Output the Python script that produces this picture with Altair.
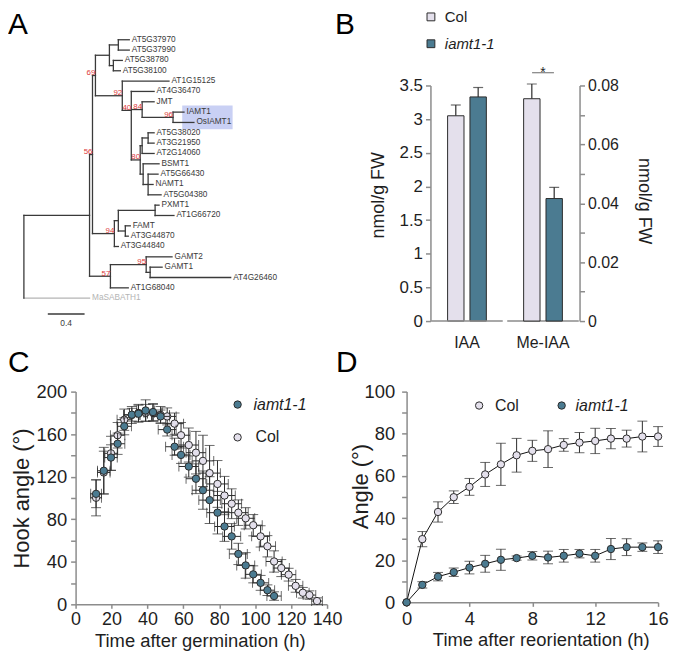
import altair as alt
import pandas as pd

FONT = "Liberation Sans"
INK = "#1e1e1e"
AXIS_INK = "#8c8c8c"
ERR_INK = "#2b2b2b"
TREE_INK = "#3a3a3a"
OUTGROUP_INK = "#b4b4b4"
SUPPORT_INK = "#dd3b3b"
HILITE = "#c9d0f4"
COL_FILL = "#e4e0ec"
MUT_FILL = "#4b7b91"

genotypes = ["Col", "iamt1-1"]
genotype_fill = [COL_FILL, MUT_FILL]

# ---------------- Panel A: phylogenetic tree ----------------
leaf_order = ["AT5G37970", "AT5G37990", "AT5G38780", "AT5G38100", "AT1G15125",
              "AT4G36470", "JMT", "IAMT1", "OsIAMT1", "AT5G38020", "AT3G21950",
              "AT2G14060", "BSMT1", "AT5G66430", "NAMT1", "AT5G04380", "PXMT1",
              "AT1G66720", "FAMT", "AT3G44870", "AT3G44840", "GAMT2", "GAMT1",
              "AT4G26460", "AT1G68040", "MaSABATH1"]
node_names = ["root", "R1", "node56", "node69", "n_ab", "n_a", "AT5G37970", "AT5G37990",
              "n_b", "AT5G38780", "AT5G38100", "node92", "AT1G15125", "node40",
              "AT4G36470", "node84", "JMT", "node96", "IAMT1", "OsIAMT1", "node80",
              "n_e", "n_d", "AT5G38020", "AT3G21950", "AT2G14060", "n_i", "BSMT1",
              "n_j", "AT5G66430", "NAMT1", "AT5G04380", "node94", "n_e2", "n_f",
              "PXMT1", "AT1G66720", "n_g", "FAMT", "AT3G44870", "AT3G44840",
              "node57", "node95", "GAMT2", "n_h", "GAMT1", "AT4G26460", "AT1G68040",
              "MaSABATH1"]
node_parents = [None, "root", "R1", "node56", "node69", "n_ab", "n_a", "n_a", "n_ab",
                "n_b", "n_b", "node69", "node92", "node92", "node40", "node40",
                "node84", "node84", "node96", "node96", "node40", "node80", "n_e",
                "n_d", "n_d", "n_e", "node80", "n_i", "n_i", "n_j", "n_j", "n_j",
                "node56", "node94", "n_e2", "n_f", "n_f", "n_e2", "n_g", "n_g",
                "node94", "R1", "node57", "node95", "node95", "n_h", "n_h",
                "node57", "root"]
node_depths = [0.0, 0.714, 0.746, 0.778, 0.930, 1.027, 1.146, 1.146, 0.973, 1.070,
               1.049, 1.070, 1.578, 1.168, 1.416, 1.286, 1.416, 1.622, 1.741, 1.849,
               1.265, 1.286, 1.351, 1.416, 1.416, 1.416, 1.297, 1.470, 1.351, 1.459,
               1.405, 1.492, 0.984, 1.027, 1.427, 1.470, 1.632, 1.103, 1.157, 1.135,
               1.027, 0.941, 1.330, 1.611, 1.373, 1.503, 2.249, 1.135, 0.714]
support_nodes = ["node56", "node69", "node92", "node40", "node84", "node96",
                 "node80", "node94", "node57", "node95"]
support_values = ["56", "69", "92", "40", "84", "96", "80", "94", "57", "95"]
row_override = {"node40": 6.83}
outgroup = "MaSABATH1"
highlighted = ["IAMT1", "OsIAMT1"]
scale_bar_length = 0.4

depth = dict(zip(node_names, node_depths))
parent = dict(zip(node_names, node_parents))
children = {}
for n, p in zip(node_names, node_parents):
    if p is not None:
        children.setdefault(p, []).append(n)
leaf_row = {n: i for i, n in enumerate(leaf_order)}


def row(n):
    if n in leaf_row:
        return leaf_row[n]
    if n in row_override:
        return row_override[n]
    ys = [row(c) for c in children[n]]
    return (min(ys) + max(ys)) / 2


h_edges = pd.DataFrame([{"x": depth[parent[n]], "x2": depth[n], "y": row(n),
                         "kind": "out" if n == outgroup else "in"}
                        for n in node_names if parent[n] is not None])
v_edges = pd.DataFrame([{"x": depth[n], "y": min(row(c) for c in ch),
                         "y2": max(row(c) for c in ch), "kind": "in"}
                        for n, ch in children.items()])
leaves = pd.DataFrame([{"x": depth[n], "y": leaf_row[n], "label": n,
                        "kind": "out" if n == outgroup else "in"} for n in leaf_order])
supports = pd.DataFrame([{"x": depth[n], "y": row(n), "label": s}
                         for n, s in zip(support_nodes, support_values)])
hilite = pd.DataFrame([{"x": depth["node96"] + 0.1, "x2": 2.27,
                        "y": leaf_row[highlighted[0]] - 0.65,
                        "y2": leaf_row[highlighted[1]] + 0.65}])
scale_bar = pd.DataFrame([{"x": 0.26, "x2": 0.26 + scale_bar_length, "y": 26.54,
                           "xm": 0.26 + scale_bar_length / 2,
                           "label": str(scale_bar_length)}])

XA = alt.Scale(domain=[0.5622, 3.2973], nice=False, zero=False)
YA = alt.Scale(domain=[4.4231, 26.923], nice=False, zero=False, reverse=True)
kind_color = alt.Color("kind:N", scale=alt.Scale(domain=["in", "out"],
                                                 range=[TREE_INK, OUTGROUP_INK]), legend=None)


def ax(f):
    return alt.X(f, scale=XA, axis=None)


def ay(f):
    return alt.Y(f, scale=YA, axis=None)


def panel_letter(letter, px, py):
    return alt.Chart(pd.DataFrame({"l": [letter]})).mark_text(
        align="left", baseline="top", fontSize=30, color="#000"
    ).encode(x=alt.value(px), y=alt.value(py), text="l:N")


panel_a = alt.layer(
    alt.Chart(hilite).mark_rect(color=HILITE).encode(x=ax("x:Q"), x2="x2:Q", y=ay("y:Q"), y2="y2:Q"),
    alt.Chart(h_edges).mark_rule(strokeWidth=1.3, strokeCap="square").encode(
        x=ax("x:Q"), x2="x2:Q", y=ay("y:Q"), color=kind_color),
    alt.Chart(v_edges).mark_rule(strokeWidth=1.3, strokeCap="square").encode(
        x=ax("x:Q"), y=ay("y:Q"), y2="y2:Q", color=kind_color),
    alt.Chart(leaves).mark_text(align="left", baseline="middle", dx=2.5, fontSize=8.3).encode(
        x=ax("x:Q"), y=ay("y:Q"), text="label:N", color=kind_color),
    alt.Chart(supports).mark_text(align="right", baseline="alphabetic", dy=-0.5, fontSize=8,
                                  color=SUPPORT_INK).encode(x=ax("x:Q"), y=ay("y:Q"), text="label:N"),
    alt.Chart(scale_bar).mark_rule(strokeWidth=1.5, color=TREE_INK).encode(
        x=ax("x:Q"), x2="x2:Q", y=ay("y:Q")),
    alt.Chart(scale_bar).mark_text(baseline="top", dy=5, fontSize=8.5, color=TREE_INK).encode(
        x=ax("xm:Q"), y=ay("y:Q"), text="label:N"),
    panel_letter("A", -68, -76),
).properties(width=253, height=234)


# ---------------- Panel B: bars ----------------
b_compound = ["IAA", "IAA", "Me-IAA", "Me-IAA"]
b_genotype = ["Col", "iamt1-1", "Col", "iamt1-1"]
b_value = [3.05, 3.33, 0.0755, 0.0416]
b_error = [0.16, 0.14, 0.0050, 0.0038]
compounds = ["IAA", "Me-IAA"]
sig_level = 0.0843

df_b = pd.DataFrame({"compound": b_compound, "genotype": b_genotype,
                     "value": b_value, "error": b_error})
df_b["upper"] = df_b["value"] + df_b["error"]
df_iaa = df_b[df_b.compound == "IAA"]
df_me = df_b[df_b.compound == "Me-IAA"]
df_base = pd.DataFrame({"compound": compounds, "zero": [0, 0]})
df_sig = pd.DataFrame({"compound": ["Me-IAA"], "level": [sig_level], "mark": ["*"]})


def axis_lin(values, title, label_expr=None, **kw):
    args = dict(values=values, title=title, domainColor=AXIS_INK, domainWidth=1.5,
                tickColor=AXIS_INK, tickWidth=1.5, labelColor=INK, titleColor=INK,
                titleFontWeight="normal", grid=False, labelFlush=False, labelOverlap=False)
    if label_expr:
        args["labelExpr"] = label_expr
    args.update(kw)
    return alt.Axis(**args)


AX_BX = alt.Axis(title=None, domain=False, ticks=False, tickSize=0, labelAngle=0,
                 labelFontSize=16, labelPadding=14, labelColor=INK)
XB = alt.X("compound:N", scale=alt.Scale(domain=compounds, range=[24, 174],
                                         paddingInner=0.059, paddingOuter=0.01), axis=AX_BX)
XOFF = alt.XOffset("genotype:N", scale=alt.Scale(domain=genotypes, paddingInner=0.2667,
                                                 paddingOuter=0.733))
FILL_B = alt.Fill("genotype:N", scale=alt.Scale(domain=genotypes, range=genotype_fill), legend=None)
SB1 = alt.Scale(domain=[0, 3.5], nice=False, zero=True)
SB2 = alt.Scale(domain=[0, 0.08], nice=False, zero=True)
AX_B1 = axis_lin([0, 0.5, 1, 1.5, 2, 2.5, 3, 3.5], "nmol/g FW", format="~g", offset=-24,
                 labelFontSize=17, titleFontSize=18, tickSize=5, labelPadding=3,
                 titleX=-43, titleY=110)
AX_B2 = axis_lin([i / 100 for i in range(9)], "nmol/g FW",
                 "round(datum.value*100) % 2 == 0 ? format(datum.value, '~g') : ''",
                 orient="right", labelFontSize=16, titleFontSize=18, tickSize=5,
                 labelPadding=3, titleX=55, titleY=116)


def b_group(df, sc, axis_def):
    Y = lambda f: alt.Y(f, scale=sc, axis=axis_def)
    return [
        alt.Chart(df).mark_rule(color=ERR_INK, strokeWidth=1.2).encode(
            x=XB, xOffset=XOFF, y=Y("value:Q"), y2="upper:Q"),
        alt.Chart(df).mark_tick(color=ERR_INK, size=10, thickness=1.2, orient="horizontal").encode(
            x=XB, xOffset=XOFF, y=Y("upper:Q")),
        alt.Chart(df).mark_bar(stroke=ERR_INK, strokeWidth=1).encode(
            x=XB, xOffset=XOFF, y=Y("value:Q"), fill=FILL_B),
    ]


def legend_square(px, py, fill, label, italic):
    d = pd.DataFrame({"label": [label]})
    return [
        alt.Chart(d).mark_point(shape="square", filled=True, size=62, fill=fill, stroke=ERR_INK,
                                strokeWidth=1, opacity=1).encode(x=alt.value(px), y=alt.value(py)),
        alt.Chart(d).mark_text(align="left", baseline="middle", fontSize=15, color=INK,
                               fontStyle="italic" if italic else "normal").encode(
            x=alt.value(px + 14), y=alt.value(py), text="label:N"),
    ]


iaa_layer = alt.layer(
    *b_group(df_iaa, SB1, AX_B1),
    alt.Chart(df_base).mark_rect(color=AXIS_INK, stroke=AXIS_INK, strokeWidth=1.5).encode(
        x=XB, y=alt.Y("zero:Q", scale=SB1, axis=AX_B1), y2="zero:Q"),
    *legend_square(24.5, -69, COL_FILL, "Col", False),
    *legend_square(24.5, -42, MUT_FILL, "iamt1-1", True),
    panel_letter("B", -72, -76),
)
me_layer = alt.layer(
    *b_group(df_me, SB2, AX_B2),
    alt.Chart(df_sig).mark_tick(color=ERR_INK, size=22, thickness=1, orient="horizontal").encode(
        x=XB, y=alt.Y("level:Q", scale=SB2, axis=AX_B2)),
    alt.Chart(df_sig).mark_text(baseline="alphabetic", dy=4, fontSize=14, color=INK).encode(
        x=XB, y=alt.Y("level:Q", scale=SB2, axis=AX_B2), text="mark:N"),
)
panel_b = alt.layer(iaa_layer, me_layer).resolve_scale(y="independent").properties(
    width=174, height=237)


# ---------------- Panel C: hook angle ----------------
c_mut_time = [11.4, 15.7, 19.7, 23.4, 27.1, 31.3, 35.0, 39.0, 43.1, 47.3, 51.0, 55.1, 58.7,
              63.0, 67.0, 70.9, 74.6, 79.0, 82.9, 86.9, 90.6, 94.7, 98.9, 103.0, 106.8, 110.5]
c_mut_angle = [103.9, 125.6, 138.0, 151.0, 167.4, 178.3, 179.2, 182.3, 180.8, 176.7, 164.3,
               148.2, 140.5, 129.6, 118.1, 107.3, 98.0, 86.2, 73.2, 63.9, 47.4, 36.6, 28.2,
               20.2, 13.3, 7.8]
c_mut_angle_err = [13, 22, 12, 10, 8, 6, 8, 10, 8, 6, 6, 8, 8, 10, 14, 18, 22, 20, 14, 12,
                   10, 12, 8, 7, 5, 4]
c_mut_time_err = [3, 3.5, 3.5, 4, 4, 4.5, 5, 5, 5, 5, 5, 5, 5, 5.5, 5.5, 6, 6, 6, 5.5, 5,
                  5, 5, 4.5, 4.5, 4, 4]
c_col_time = [11.4, 15.7, 19.7, 23.4, 27.1, 31.3, 35.0, 39.0, 43.1, 47.3, 51.0, 55.1, 58.7,
              63.0, 67.0, 70.9, 74.6, 79.0, 82.9, 86.9, 90.6, 94.7, 98.9, 103.0, 106.8, 110.5,
              114.5, 118.6, 122.5, 126.5, 130.2, 134.4]
c_col_angle = [100.2, 124.0, 142.0, 159.0, 173.6, 178.0, 180.0, 180.0, 180.0, 178.0, 176.7,
               169.9, 159.0, 149.8, 142.6, 134.9, 123.4, 113.2, 102.3, 94.6, 86.2, 80.9, 74.4,
               63.9, 54.6, 40.3, 34.1, 27.9, 17.4, 10.9, 8.7, 3.1]
c_col_angle_err = [17, 20, 16, 12, 10, 8, 8, 8, 8, 8, 8, 10, 12, 16, 20, 24, 26, 22, 18, 14,
                   12, 10, 10, 10, 10, 10, 8, 6, 6, 5, 4, 3]
c_col_time_err = [3, 3.5, 3.5, 4, 4, 4.5, 5, 5, 5, 5, 5, 5, 5, 5.5, 5.5, 6, 6, 6, 6, 5.5,
                  5.5, 5, 5, 5, 4.5, 4.5, 4.5, 4, 4, 3.5, 3.5, 3]


def make_series(times, vals, verr, herr=None):
    df = pd.DataFrame({"t": times, "v": vals, "ve": verr})
    df["vlo"] = df["v"] - df["ve"]
    df["vhi"] = df["v"] + df["ve"]
    if herr is not None:
        df["he"] = herr
        df["tlo"] = df["t"] - df["he"]
        df["thi"] = df["t"] + df["he"]
    return df


def series_layers(df, fill, xs, ys, ax_x, ax_y, horiz=False, line=False):
    X = lambda f: alt.X(f, scale=xs, axis=ax_x)
    Y = lambda f: alt.Y(f, scale=ys, axis=ax_y)
    layers = []
    if line:
        layers.append(alt.Chart(df).mark_line(color="#111111", strokeWidth=1).encode(
            x=X("t:Q"), y=Y("v:Q")))
    bars = df[df["ve"] > 0]
    layers.append(alt.Chart(bars).mark_rule(color=ERR_INK, strokeWidth=1).encode(
        x=X("t:Q"), y=Y("vlo:Q"), y2="vhi:Q"))
    vcaps = pd.concat([bars[["t", "vlo"]].rename(columns={"vlo": "cv"}),
                       bars[["t", "vhi"]].rename(columns={"vhi": "cv"})])
    layers.append(alt.Chart(vcaps).mark_tick(color=ERR_INK, orient="horizontal", size=10,
                                             thickness=1).encode(x=X("t:Q"), y=Y("cv:Q")))
    if horiz:
        layers.append(alt.Chart(df).mark_rule(color=ERR_INK, strokeWidth=1).encode(
            x=X("tlo:Q"), x2="thi:Q", y=Y("v:Q")))
        hcaps = pd.concat([df[["tlo", "v"]].rename(columns={"tlo": "ct"}),
                           df[["thi", "v"]].rename(columns={"thi": "ct"})])
        layers.append(alt.Chart(hcaps).mark_tick(color=ERR_INK, orient="vertical", size=10,
                                                 thickness=1).encode(x=X("ct:Q"), y=Y("v:Q")))
    layers.append(alt.Chart(df).mark_point(shape="circle", filled=True, size=55, fill=fill,
                                           stroke=ERR_INK, strokeWidth=1, opacity=1).encode(
        x=X("t:Q"), y=Y("v:Q")))
    return layers


def legend_circle(px, py, fill, label, italic, dx):
    d = pd.DataFrame({"label": [label]})
    return [
        alt.Chart(d).mark_point(shape="circle", filled=True, size=55, fill=fill, stroke=ERR_INK,
                                strokeWidth=1, opacity=1).encode(x=alt.value(px), y=alt.value(py)),
        alt.Chart(d).mark_text(align="left", baseline="middle", fontSize=16, color=INK,
                               fontStyle="italic" if italic else "normal").encode(
            x=alt.value(px + dx), y=alt.value(py), text="label:N"),
    ]


XC = alt.Scale(domain=[0, 140], nice=False, zero=False)
YC = alt.Scale(domain=[0, 200], nice=False)
AX_CX = axis_lin(list(range(0, 141, 20)), "Time after germination (h)", labelFontSize=18,
                 titleFontSize=18.5, tickSize=4, labelPadding=2, titleX=125, titleY=27)
AX_CY = axis_lin(list(range(0, 201, 20)), "Hook angle (°)",
                 "datum.value % 40 == 0 ? datum.label : ''", labelFontSize=18.5,
                 titleFontSize=22, tickSize=5, labelPadding=4, titleX=-42, titleY=107)

df_c_col = make_series(c_col_time, c_col_angle, c_col_angle_err, c_col_time_err)
df_c_mut = make_series(c_mut_time, c_mut_angle, c_mut_angle_err, c_mut_time_err)

panel_c = alt.layer(
    *series_layers(df_c_col, COL_FILL, XC, YC, AX_CX, AX_CY, horiz=True),
    *series_layers(df_c_mut, MUT_FILL, XC, YC, AX_CX, AX_CY, horiz=True),
    *legend_circle(163, 13, MUT_FILL, "iamt1-1", True, 16),
    *legend_circle(163, 46, COL_FILL, "Col", False, 18),
    panel_letter("C", -68, -44),
).properties(width=253, height=214)


# ---------------- Panel D: gravitropic angle ----------------
d_time = list(range(17))
d_col_angle = [0, 30.0, 42.9, 49.9, 54.8, 60.7, 65.5, 69.8, 71.9, 72.7, 74.7, 75.8, 76.6,
               77.7, 77.7, 78.7, 78.7]
d_col_err = [0, 3.6, 4.8, 3.0, 4.0, 5.7, 10.0, 8.0, 5.0, 8.7, 3.0, 4.8, 6.0, 4.8, 4.0, 7.3, 4.7]
d_mut_angle = [0, 8.3, 12.2, 14.3, 16.5, 18.3, 20.2, 21.0, 22.1, 21.3, 22.1, 23.1, 22.1,
               25.3, 26.2, 26.2, 26.2]
d_mut_err = [0, 1.5, 2.0, 2.0, 3.0, 4.0, 5.0, 1.0, 2.0, 3.0, 3.0, 2.0, 3.0, 5.0, 4.0, 2.0, 3.0]

XD = alt.Scale(domain=[0, 16], nice=False, zero=False)
YD = alt.Scale(domain=[0, 100], nice=False)
AX_DX = axis_lin([0, 4, 8, 12, 16], "Time after reorientation (h)", labelFontSize=18.5,
                 titleFontSize=18.5, tickSize=4, labelPadding=3, titleX=135, titleY=28)
AX_DY = axis_lin(list(range(0, 101, 10)), "Angle (°)",
                 "datum.value % 20 == 0 ? datum.label : ''", labelFontSize=18.5,
                 titleFontSize=22, tickSize=5, labelPadding=7, titleX=-34, titleY=95)

df_d_col = make_series(d_time, d_col_angle, d_col_err)
df_d_mut = make_series(d_time, d_mut_angle, d_mut_err)

panel_d = alt.layer(
    *series_layers(df_d_col, COL_FILL, XD, YD, AX_DX, AX_DY, line=True),
    *series_layers(df_d_mut, MUT_FILL, XD, YD, AX_DX, AX_DY, line=True),
    *legend_circle(73, 14, COL_FILL, "Col", False, 16),
    *legend_circle(156, 14, MUT_FILL, "iamt1-1", True, 14),
    panel_letter("D", -71, -44),
).properties(width=253, height=212)


chart = alt.concat(
    panel_a, panel_b, panel_c, panel_d,
    columns=2, spacing={"row": 71, "column": 80}, bounds="flush", padding=0,
).configure(font=FONT).configure_view(stroke=None)

chart.save("out.html", embed_options={"renderer": "svg", "actions": False})
